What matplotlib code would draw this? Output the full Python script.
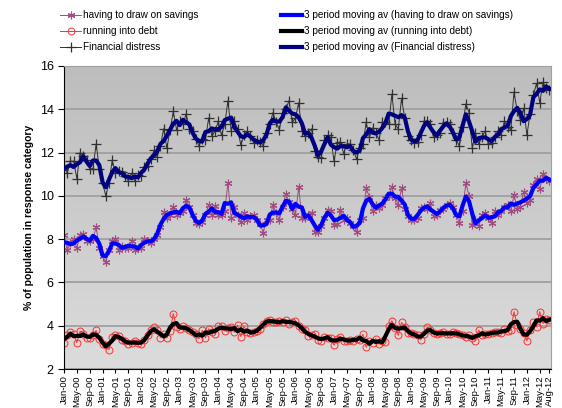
import numpy as np
import pandas as pd
import matplotlib
matplotlib.use("Agg")
import matplotlib.pyplot as plt
from matplotlib.colors import LinearSegmentedColormap
from matplotlib.lines import Line2D

plt.rcParams['font.family'] = ['Liberation Sans', 'DejaVu Sans']

# monthly, Jan-00 .. Aug-12
months = pd.date_range('2000-01-01', periods=152, freq='MS')

draw_on_savings = [
    8.2, 7.5, 7.8, 8.0, 7.6, 8.2, 8.25, 7.9, 7.9, 8.0, 8.55, 7.6,
    7.2, 6.95, 7.5, 7.9, 8.0, 7.5, 7.7, 7.6, 7.6, 7.9, 7.5, 7.6,
    7.6, 8.0, 7.9, 7.8, 8.0, 8.2, 8.55, 9.25, 9.0, 9.1, 9.5, 9.1,
    9.2, 9.3, 9.8, 9.5, 9.1, 8.75, 8.7, 8.8, 9.1, 9.6, 9.1, 9.55,
    9.1, 9.1, 9.3, 10.6, 9.0, 9.5, 9.1, 8.8, 9.2, 8.9, 9.05, 9.1,
    8.9, 8.7, 8.3, 8.9, 8.9, 9.6, 9.2, 8.9, 9.5, 10.1, 9.7, 9.4,
    9.1, 10.4, 9.0, 9.0, 9.1, 9.2, 8.35, 8.35, 8.6, 9.0, 9.35, 9.3,
    8.65, 8.7, 9.35, 8.9, 9.0, 8.75, 8.6, 8.35, 8.9, 9.0, 10.35, 9.95,
    9.3, 9.6, 9.45, 9.6, 9.9, 10.0, 10.4, 9.9, 9.6, 10.35, 9.4, 9.05,
    8.9, 8.9, 9.0, 9.45, 9.5, 9.4, 9.65, 9.05, 9.1, 9.35, 9.4, 9.6,
    9.65, 9.5, 9.1, 8.75, 9.3, 10.6, 10.0, 8.65, 8.9, 8.6, 9.1, 9.2,
    9.0, 8.75, 9.3, 9.1, 9.3, 9.5, 9.6, 9.3, 10.05, 9.4, 9.5, 10.2,
    9.65, 9.8, 10.5, 10.8, 10.3, 11.0, 10.8, 10.7,
]

running_into_debt = [
    3.2, 3.55, 3.72, 3.62, 3.22, 3.75, 3.6, 3.45, 3.45, 3.55, 3.78, 3.4,
    3.15, 3.1, 2.9, 3.5, 3.55, 3.52, 3.36, 3.3, 3.16, 3.2, 3.28, 3.2,
    3.14, 3.32, 3.55, 3.78, 3.92, 3.8, 3.45, 3.62, 3.44, 3.75, 4.56, 3.94,
    3.86, 3.97, 3.9, 3.78, 3.7, 3.6, 3.4, 3.78, 3.44, 3.86, 3.7, 3.62,
    3.97, 4.0, 3.75, 3.9, 3.95, 3.7, 4.03, 3.5, 3.97, 3.7, 3.65, 3.7,
    3.75, 3.85, 4.1, 4.2, 4.28, 4.17, 4.15, 4.2, 4.15, 4.28, 4.1, 4.15,
    4.2, 4.0, 3.86, 3.8, 3.52, 3.55, 3.6, 3.35, 3.3, 3.5, 3.45, 3.45,
    3.1, 3.4, 3.5, 3.3, 3.3, 3.35, 3.3, 3.4, 3.35, 3.6, 3.0, 3.3,
    3.2, 3.4, 3.15, 3.3, 3.26, 4.0, 4.23, 3.9, 3.55, 4.15, 3.95, 3.65,
    3.65, 3.6, 3.55, 3.35, 3.6, 3.93, 3.8, 3.65, 3.6, 3.65, 3.7, 3.62,
    3.6, 3.7, 3.65, 3.6, 3.55, 3.5, 3.55, 3.45, 3.3, 3.8, 3.55, 3.6,
    3.62, 3.65, 3.7, 3.7, 3.65, 3.85, 3.75, 3.8, 4.65, 4.05, 3.85, 3.65,
    3.3, 3.8, 4.15, 3.95, 4.65, 4.1, 4.3, 4.25,
]

financial_distress = [
    11.4, 11.05, 11.6, 11.6, 10.8, 12.0, 11.85, 11.65, 11.25, 11.25, 12.4, 11.25,
    10.6, 10.0, 10.6, 11.65, 11.05, 11.15, 11.1, 10.9, 10.7, 11.05, 10.7, 10.95,
    10.9, 11.35, 11.4, 11.7, 12.1, 11.8, 12.3, 13.1, 12.2, 13.05, 13.9, 13.05,
    13.45, 13.3, 13.8, 13.1, 13.0, 12.65, 12.3, 12.65, 12.6, 13.6, 12.75, 13.0,
    13.45, 12.8, 13.3, 14.4, 13.0, 13.45, 13.1, 12.35, 12.8, 13.0, 12.75, 12.45,
    12.6, 12.5, 12.3, 12.9, 13.3, 13.85, 13.4, 13.05, 13.85, 14.0, 14.4, 13.4,
    13.6, 14.3, 13.0, 12.75, 12.9, 13.1, 12.05, 11.8, 11.75, 12.6, 12.8, 12.7,
    11.6, 12.45, 12.5, 11.95, 12.4, 12.4, 12.1, 11.7, 12.2, 12.4, 13.4, 12.7,
    13.15, 12.9, 12.6, 13.4, 13.4, 13.3, 14.7, 13.3, 13.1, 14.5, 13.6, 12.75,
    12.6, 12.45, 12.5, 12.8, 13.45, 13.45, 13.3, 12.7, 12.8, 12.9, 13.35, 13.4,
    13.3, 12.9, 12.6, 12.3, 13.2, 14.25, 13.85, 12.2, 12.9, 12.4, 12.7, 13.0,
    12.4, 12.45, 12.7, 13.0, 12.8, 13.45, 13.2, 13.05, 14.8, 13.9, 13.5, 14.05,
    12.8, 13.8, 14.65, 15.2, 14.3, 15.25, 15.0, 14.9,
]

labels = ['having to draw on savings', 'running into debt', 'Financial distress']
ma_labels = ['3 period moving av (' + s + ')' for s in labels]

x = np.arange(len(months))
ma = lambda v: pd.Series(v).rolling(3, center=True, min_periods=2).mean()

fig = plt.figure(figsize=(5.62, 4.08), dpi=100)
ax = fig.add_axes([64 / 562, 1 - 369 / 408, (551 - 64) / 562, (369 - 66) / 408])

# grey gradient plot area
cmap = LinearSegmentedColormap.from_list('bg', ['#bdbdbd', '#dcdcdc'])
ax.imshow(np.linspace(0, 1, 256).reshape(-1, 1), cmap=cmap, aspect='auto',
          extent=[0, 1, 0, 1], transform=ax.transAxes, zorder=-1)

ax.plot(x, draw_on_savings, color='#a04c80', lw=0.7, marker=(6, 2, 0), ms=5.5,
        mew=0.8, zorder=2)
ax.plot(x, running_into_debt, color='#ff3030', lw=0.7, marker='o', ms=5,
        mfc='none', mew=0.7, zorder=2)
ax.plot(x, financial_distress, color='#303030', lw=0.7, marker='+', ms=7,
        mew=0.9, zorder=2)
ax.plot(x, ma(draw_on_savings), color='#0000ff', lw=3, zorder=3)
ax.plot(x, ma(running_into_debt), color='#000000', lw=3, zorder=3)
ax.plot(x, ma(financial_distress), color='#000080', lw=3, zorder=3)

ax.set_ylim(2, 16)
ax.set_xlim(0, 151.5)
ax.set_yticks(range(2, 17, 2))
ax.yaxis.grid(True, color='#a0a0a0', lw=1.3)
ax.set_axisbelow(True)

ticks = list(range(0, 152, 4)) + [151]
ax.set_xticks(ticks)
ax.set_xticklabels([months[i].strftime('%b-%y') for i in ticks], rotation=90,
                   fontsize=6.8)
ax.tick_params(axis='y', labelsize=9, length=4)
ax.tick_params(axis='x', length=3, pad=1.5)
ax.set_ylabel('% of population in response category', fontsize=7.5,
              fontweight='bold')
for s in ['top', 'right']:
    ax.spines[s].set_color('#a0a0a0')

h1 = [
    Line2D([], [], color='#a04c80', lw=0.7, marker=(6, 2, 0), ms=5.5, mew=0.8),
    Line2D([], [], color='#ff3030', lw=0.7, marker='o', ms=5, mfc='none', mew=0.7),
    Line2D([], [], color='#303030', lw=0.7, marker='+', ms=7, mew=0.9),
]
h2 = [Line2D([], [], color=c, lw=3) for c in ['#0000ff', '#000000', '#000080']]
kw = dict(frameon=False, fontsize=7.2, handlelength=2.1, handletextpad=0.2,
          labelspacing=0.62, borderaxespad=0, borderpad=0)
fig.legend(h1, labels, loc='upper left', bbox_to_anchor=(60 / 562, 1 - 10 / 408), **kw)
fig.legend(h2, ma_labels, loc='upper left', bbox_to_anchor=(281 / 562, 1 - 10 / 408), **kw)

fig.savefig('out.png', dpi=100)
